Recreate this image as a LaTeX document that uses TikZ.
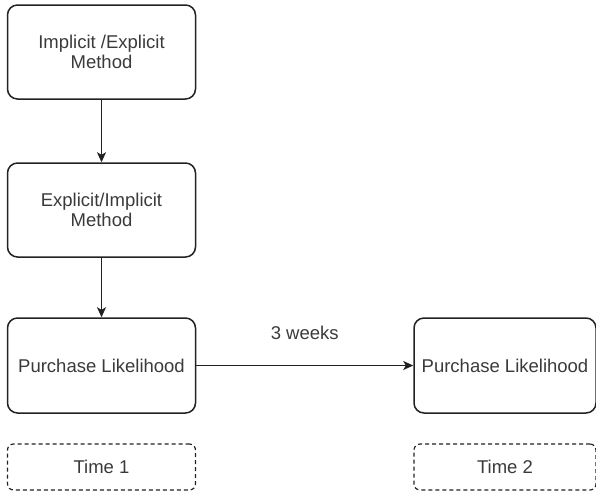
\documentclass[tikz,border=0pt]{standalone}
\usepackage{fontspec}
\setmainfont{Liberation Sans}
\usetikzlibrary{arrows.meta}
\definecolor{linec}{HTML}{222222}
\definecolor{textc}{HTML}{3A3A3A}
\begin{document}
\begin{tikzpicture}[x=1pt,y=-1pt,
  box/.style={draw=linec,line width=1.5pt,rounded corners=10pt,minimum width=188pt,minimum height=94pt,inner sep=0pt,text=textc,font=\fontsize{18.5}{20}\selectfont,align=center},
  tbox/.style={draw=linec,line width=1.2pt,dashed,dash pattern=on 4pt off 3pt,rounded corners=6pt,minimum width=188pt,minimum height=46pt,inner sep=0pt,text=textc,font=\fontsize{18.5}{20}\selectfont},
  arr/.style={draw=linec,line width=1.5pt,-{Stealth[length=10pt,width=9pt,inset=2.5pt]}},
  lbl/.style={text=textc,font=\fontsize{18.5}{20}\selectfont}]
\useasboundingbox (0,0) rectangle (596,491);
\node[box] (m1) at (101.5,52) {Implicit /Explicit\\Method};
\node[box] (m2) at (101.5,210) {Explicit/Implicit\\Method};
\node[box,minimum height=95pt] (p1) at (101.5,365.5) {Purchase Likelihood};
\node[box,minimum height=95pt,minimum width=182pt] (p2) at (505,365.5) {Purchase Likelihood};
\node[tbox] (t1) at (101.5,467) {Time 1};
\node[tbox,minimum width=182pt] (t2) at (505,467) {Time 2};
\draw[arr] (m1) -- (m2);
\draw[arr] (m2) -- (p1);
\draw[arr] (p1) -- node[lbl,anchor=base,yshift=26pt] (w) {3 weeks} (p2);
\end{tikzpicture}
\end{document}
